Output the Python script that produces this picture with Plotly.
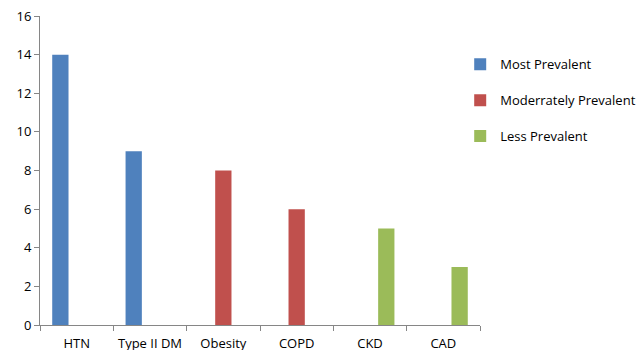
import plotly.graph_objects as go

categories = ["HTN", "Type II DM", "Obesity", "COPD", "CKD", "CAD"]
most_prevalent = [14, 9, None, None, None, None]
moderately_prevalent = [None, None, 8, 6, None, None]
less_prevalent = [None, None, None, None, 5, 3]
y_ticks = [0, 2, 4, 6, 8, 10, 12, 14, 16]

series = [
    ("Most Prevalent", most_prevalent, "#4F81BD"),
    ("Moderrately Prevalent", moderately_prevalent, "#C0504D"),
    ("Less Prevalent", less_prevalent, "#9BBB59"),
]

fig = go.Figure()
for name, vals, color in series:
    fig.add_trace(go.Bar(
        x=categories, y=vals, name=name, marker_color=color,
        marker_line_width=0, legendgroup=name,
    ))

axis_color = "#868686"
fig.update_layout(
    width=639, height=350,
    margin=dict(l=40, r=159, t=16, b=25, autoexpand=False),
    paper_bgcolor="white", plot_bgcolor="white",
    barmode="group", bargap=1/3, bargroupgap=0,
    font=dict(family="Open Sans", size=13, color="black"),
    legend=dict(
        x=0.955, xanchor="left", y=0.892, yanchor="top",
        tracegroupgap=16, font=dict(size=13),
        itemwidth=30,
    ),
    xaxis=dict(
        showline=True, linecolor=axis_color, linewidth=1,
        ticks="outside", tickson="boundaries", ticklen=5, tickcolor=axis_color,
        showgrid=False, tickfont=dict(size=13), ticklabelstandoff=6,
        automargin=False,
    ),
    yaxis=dict(
        range=[0, 16], tickvals=y_ticks,
        showline=True, linecolor=axis_color, linewidth=1,
        ticks="outside", ticklen=5, tickcolor=axis_color,
        showgrid=False, zeroline=False, tickfont=dict(size=13),
        automargin=False,
    ),
)

fig.write_html("out.html")
